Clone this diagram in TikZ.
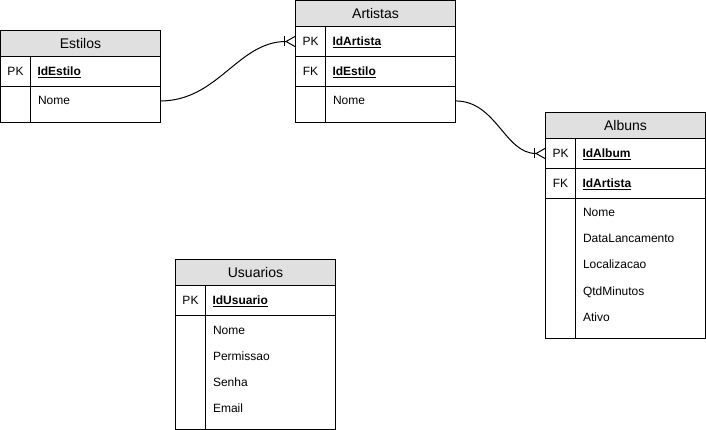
\documentclass[tikz,border=0pt]{standalone}
\usepackage{fontspec}
\setmainfont{Liberation Sans}
\usetikzlibrary{positioning, calc, arrows.meta}
\definecolor{hdrgray}{HTML}{E0E0E0}

\tikzset{
  tabhead/.style={draw, fill=hdrgray, minimum width=160pt, minimum height=26pt, inner sep=0pt,
    outer sep=0pt, font=\fontsize{14}{16}\selectfont, text height=10pt, text depth=0pt},
  keycell/.style={draw, minimum width=30pt, minimum height=#1, inner sep=0pt, outer sep=0pt,
    text height=9pt, text depth=0.5pt},
  keycell/.default=30pt,
  fieldcell/.style={draw, minimum width=130pt, minimum height=#1, text width=116pt,
    inner xsep=7pt, inner ysep=0pt, outer sep=0pt, align=left, text height=9pt, text depth=0.5pt},
  fieldcell/.default=30pt,
  attr/.style={anchor=base west, inner sep=0pt},
  crowfoot/.style={-{Bar[width=10pt] Straight Barb[reversed, length=9pt, width=10pt]}}
}

\begin{document}
\begin{tikzpicture}[x=1pt, y=-1pt, line width=1pt, font=\fontsize{12}{14}\selectfont]
  \useasboundingbox (0,0) rectangle (706,430);

  % Estilos
  \node[tabhead, anchor=north west] (estilos) at (0.5,30.5) {Estilos};
  \node[keycell, below right=0pt of estilos.south west] (estilosPK) {PK};
  \node[fieldcell, right=0pt of estilosPK] (estilosId) {\underline{\textbf{IdEstilo}}};
  \node[keycell=36pt, below=0pt of estilosPK] (estilosKey) {};
  \node[fieldcell=36pt, right=0pt of estilosKey] (estilosAttr) {};
  \node[attr] (estilosA0) at ($(estilosAttr.north west)+(7,18.5)$) {Nome};

  % Artistas
  \node[tabhead, anchor=north west] (artistas) at (295.5,0.5) {Artistas};
  \node[keycell, below right=0pt of artistas.south west] (artistasPK) {PK};
  \node[fieldcell, right=0pt of artistasPK] (artistasId) {\underline{\textbf{IdArtista}}};
  \node[keycell, below=0pt of artistasPK] (artistasFK) {FK};
  \node[fieldcell, right=0pt of artistasFK] (artistasEst) {\underline{\textbf{IdEstilo}}};
  \node[keycell=36pt, below=0pt of artistasFK] (artistasKey) {};
  \node[fieldcell=36pt, right=0pt of artistasKey] (artistasAttr) {};
  \node[attr] (artistasA0) at ($(artistasAttr.north west)+(7,18.5)$) {Nome};

  % Albuns
  \node[tabhead, anchor=north west] (albuns) at (545.5,112.5) {Albuns};
  \node[keycell, below right=0pt of albuns.south west] (albunsPK) {PK};
  \node[fieldcell, right=0pt of albunsPK] (albunsId) {\underline{\textbf{IdAlbum}}};
  \node[keycell, below=0pt of albunsPK] (albunsFK) {FK};
  \node[fieldcell, right=0pt of albunsFK] (albunsArt) {\underline{\textbf{IdArtista}}};
  \node[keycell=140pt, below=0pt of albunsFK] (albunsKey) {};
  \node[fieldcell=140pt, right=0pt of albunsKey] (albunsAttr) {};
  \foreach \txt [count=\i from 0] in {Nome, DataLancamento, Localizacao, QtdMinutos, Ativo}
    \node[attr] (albunsA\i) at ($(albunsAttr.north west)+(7,18.5+26*\i)$) {\txt};

  % Usuarios
  \node[tabhead, anchor=north west] (usuarios) at (175.5,259.5) {Usuarios};
  \node[keycell, below right=0pt of usuarios.south west] (usuariosPK) {PK};
  \node[fieldcell, right=0pt of usuariosPK] (usuariosId) {\underline{\textbf{IdUsuario}}};
  \node[keycell=114pt, below=0pt of usuariosPK] (usuariosKey) {};
  \node[fieldcell=114pt, right=0pt of usuariosKey] (usuariosAttr) {};
  \foreach \txt [count=\i from 0] in {Nome, Permissao, Senha, Email}
    \node[attr] (usuariosA\i) at ($(usuariosAttr.north west)+(7,18.5+26*\i)$) {\txt};

  % relacoes
  \draw[crowfoot] (estilosAttr.east |- estilosA0) to[out=0, in=180] (artistasPK.west);
  \draw[crowfoot] (artistasAttr.east |- artistasA0) to[out=0, in=180] (albunsPK.west);
\end{tikzpicture}
\end{document}
